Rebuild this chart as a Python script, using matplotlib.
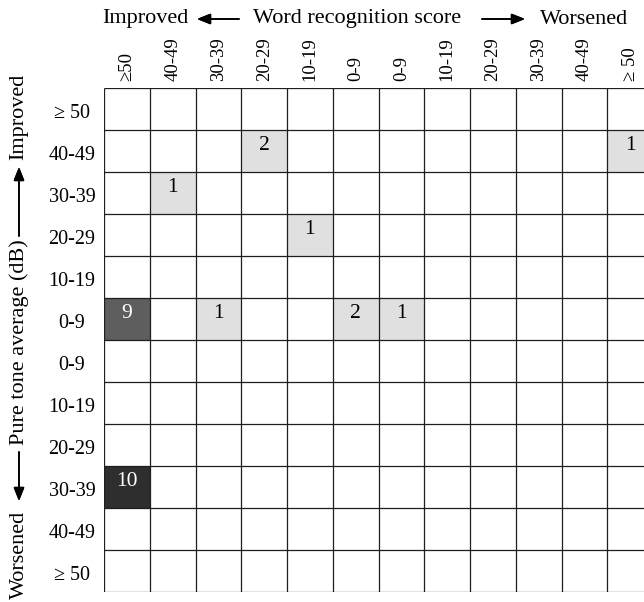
import numpy as np
import matplotlib
matplotlib.use('Agg')
import matplotlib.pyplot as plt
from matplotlib.colors import ListedColormap, BoundaryNorm

# word recognition score change (columns) and pure tone average change (rows)
col_labels = ['≥50', '40-49', '30-39', '20-29', '10-19', '0-9',
              '0-9', '10-19', '20-29', '30-39', '40-49', '≥ 50']
row_labels = ['≥ 50', '40-49', '30-39', '20-29', '10-19', '0-9',
              '0-9', '10-19', '20-29', '30-39', '40-49', '≥ 50']

# (row, col, count) for the non-empty cells
cell_rows = [1, 1, 2, 3, 5, 5, 5, 5, 9]
cell_cols = [3, 11, 1, 4, 0, 2, 5, 6, 0]
cell_counts = [2, 1, 1, 1, 9, 1, 2, 1, 10]

counts = np.zeros((12, 12))
for r, c, v in zip(cell_rows, cell_cols, cell_counts):
    counts[r, c] = v

W, H = 644, 602
fig = plt.figure(figsize=(W / 100, H / 100), dpi=100)
plt.rcParams['font.family'] = ['Liberation Serif', 'DejaVu Serif']


def fx(x):
    return x / W


def fy(y):
    return 1 - y / H


# grid: left 104px, top 88px, cell 45.75 x 42 px (last column runs off the edge)
left, top, cw, ch = 104, 88, 45.75, 42
ax = fig.add_axes([fx(left), fy(top + 12 * ch), 12 * cw / W, 12 * ch / H])

cmap = ListedColormap(['white', '#e0e0e0', '#5e5e5e', '#2e2e2e'])
norm = BoundaryNorm([0, 0.5, 5, 9.5, 11], cmap.N)
ax.pcolormesh(np.arange(13), np.arange(13), counts, cmap=cmap, norm=norm)
ax.hlines(np.arange(13), 0, 12, color='#1e1e1e', lw=0.9)
ax.vlines(np.arange(13), 0, 12, color='#1e1e1e', lw=0.9)
ax.set_xlim(0, 12)
ax.set_ylim(12, 0)
ax.axis('off')

for r, c, v in zip(cell_rows, cell_cols, cell_counts):
    color = 'white' if v >= 5 else 'black'
    ax.text(c + 0.5, r + 0.36, str(v), ha='center', va='center',
            fontsize=15.5, color=color)

for i, lab in enumerate(col_labels):
    ax.text(i + 0.5, -0.16, lab, rotation=90, ha='center', va='bottom',
            fontsize=13.5)

for i, lab in enumerate(row_labels):
    ax.text(-0.7, i + 0.6, lab, ha='center', va='center', fontsize=14.5)

# top title with arrows
ty = 19
fig.text(fx(102), fy(ty), 'Improved', ha='left', va='center', fontsize=16)
fig.text(fx(253), fy(ty), 'Word recognition score', ha='left', va='center',
         fontsize=16)
fig.text(fx(540), fy(ty), 'Worsened', ha='left', va='center', fontsize=16)
arrow = dict(arrowstyle='-|>,head_length=0.8,head_width=0.32', color='black',
             lw=1.2, shrinkA=0, shrinkB=0)
fig.add_artist(plt.annotate('', xy=(fx(197), fy(ty)), xytext=(fx(239), fy(ty)),
                            xycoords='figure fraction', arrowprops=arrow))
fig.add_artist(plt.annotate('', xy=(fx(525), fy(ty)), xytext=(fx(482), fy(ty)),
                            xycoords='figure fraction', arrowprops=arrow))

# left title with arrows
lx = 19
fig.text(fx(lx), fy(117), 'Improved', rotation=90, ha='center', va='center',
         fontsize=16)
fig.text(fx(lx), fy(342), 'Pure tone average (dB)', rotation=90, ha='center',
         va='center', fontsize=16)
fig.text(fx(lx), fy(555), 'Worsened', rotation=90, ha='center', va='center',
         fontsize=16)
fig.add_artist(plt.annotate('', xy=(fx(lx), fy(167)), xytext=(fx(lx), fy(236)),
                            xycoords='figure fraction', arrowprops=arrow))
fig.add_artist(plt.annotate('', xy=(fx(lx), fy(501)), xytext=(fx(lx), fy(452)),
                            xycoords='figure fraction', arrowprops=arrow))

fig.savefig('out.png', dpi=100)
